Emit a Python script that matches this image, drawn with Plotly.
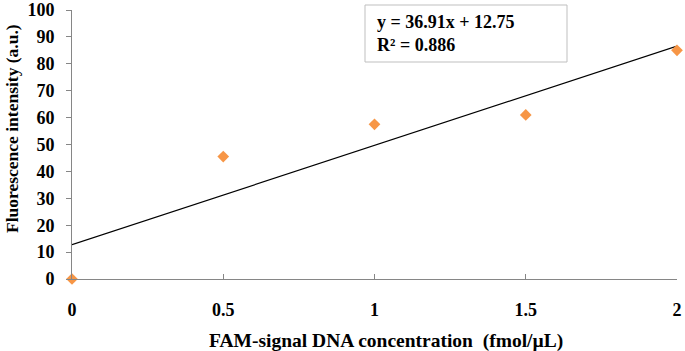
import plotly.graph_objects as go

# Data
concentration = [0, 0.5, 1, 1.5, 2]
intensity = [0, 45.5, 57.5, 61, 85]
slope = 36.91
intercept = 12.75
r_squared = 0.886
x_ticks = [0, 0.5, 1, 1.5, 2]
x_tick_labels = ["0", "0.5", "1", "1.5", "2"]
y_ticks = list(range(0, 101, 10))

trend_x = [min(concentration), max(concentration)]
trend_y = [slope * v + intercept for v in trend_x]

FONT = "Liberation Serif"
AXIS_COLOR = "#868686"
W, H = 685, 351
L, R, T, B = 72, 8, 10, 72
PW, PH = W - L - R, H - T - B


def px_x(p):
    return (p - L) / PW


def px_y(p):
    return (H - B - p) / PH


fig = go.Figure()
fig.add_trace(go.Scatter(
    x=trend_x, y=trend_y, mode="lines",
    line=dict(color="black", width=1.2), showlegend=False, hoverinfo="skip",
    cliponaxis=False))
fig.add_trace(go.Scatter(
    x=concentration, y=intensity, mode="markers",
    marker=dict(symbol="diamond", color="#F79646", size=9, line=dict(width=0)),
    showlegend=False, cliponaxis=False))

fig.update_layout(
    width=W, height=H,
    margin=dict(l=L, r=R, t=T, b=B),
    paper_bgcolor="white", plot_bgcolor="white",
    font=dict(family=FONT, size=18, color="black"),
    xaxis=dict(
        range=[0, 2], tickvals=x_ticks, ticktext=x_tick_labels,
        automargin=False,
        showgrid=False, zeroline=False, showline=True, linecolor=AXIS_COLOR, linewidth=1,
        ticks="inside", ticklen=5, tickcolor=AXIS_COLOR,
        ticklabelstandoff=14,
        tickfont=dict(family=FONT, size=18, weight="bold"),
    ),
    yaxis=dict(
        range=[0, 100], tickvals=y_ticks,
        automargin=False,
        showgrid=False, zeroline=False, showline=True, linecolor=AXIS_COLOR, linewidth=1,
        ticks="outside", ticklen=5, tickcolor=AXIS_COLOR,
        ticklabelstandoff=8,
        tickfont=dict(family=FONT, size=18, weight="bold"),
    ),
)

# axis titles
fig.add_annotation(
    xref="paper", yref="paper", x=px_x(386), y=px_y(341),
    xanchor="center", yanchor="middle", showarrow=False,
    text="<b>FAM-signal DNA concentration&nbsp; (fmol/µL)</b>",
    font=dict(family=FONT, size=19.5))
fig.add_annotation(
    xref="paper", yref="paper", x=px_x(12), y=px_y(129),
    xanchor="center", yanchor="middle", showarrow=False, textangle=-90,
    text="<b>Fluorescence intensity (a.u.)</b>",
    font=dict(family=FONT, size=17.5))

# trendline equation box
fig.add_shape(type="rect", xref="paper", yref="paper",
              x0=px_x(365), x1=px_x(567), y0=px_y(62), y1=px_y(5),
              line=dict(color="#BFBFBF", width=1), fillcolor="white", layer="above")
fig.add_annotation(
    xref="paper", yref="paper",
    x=px_x(375), y=px_y(33), xanchor="left", yanchor="middle",
    text=f"<b>y = {slope}x + {intercept}<br>R² = {r_squared}</b>",
    align="left", showarrow=False, font=dict(family=FONT, size=18))

fig.write_html(
    "out.html",
    config={"displayModeBar": False},
    post_script="document.body.style.margin='0';document.body.style.overflow='hidden';")
